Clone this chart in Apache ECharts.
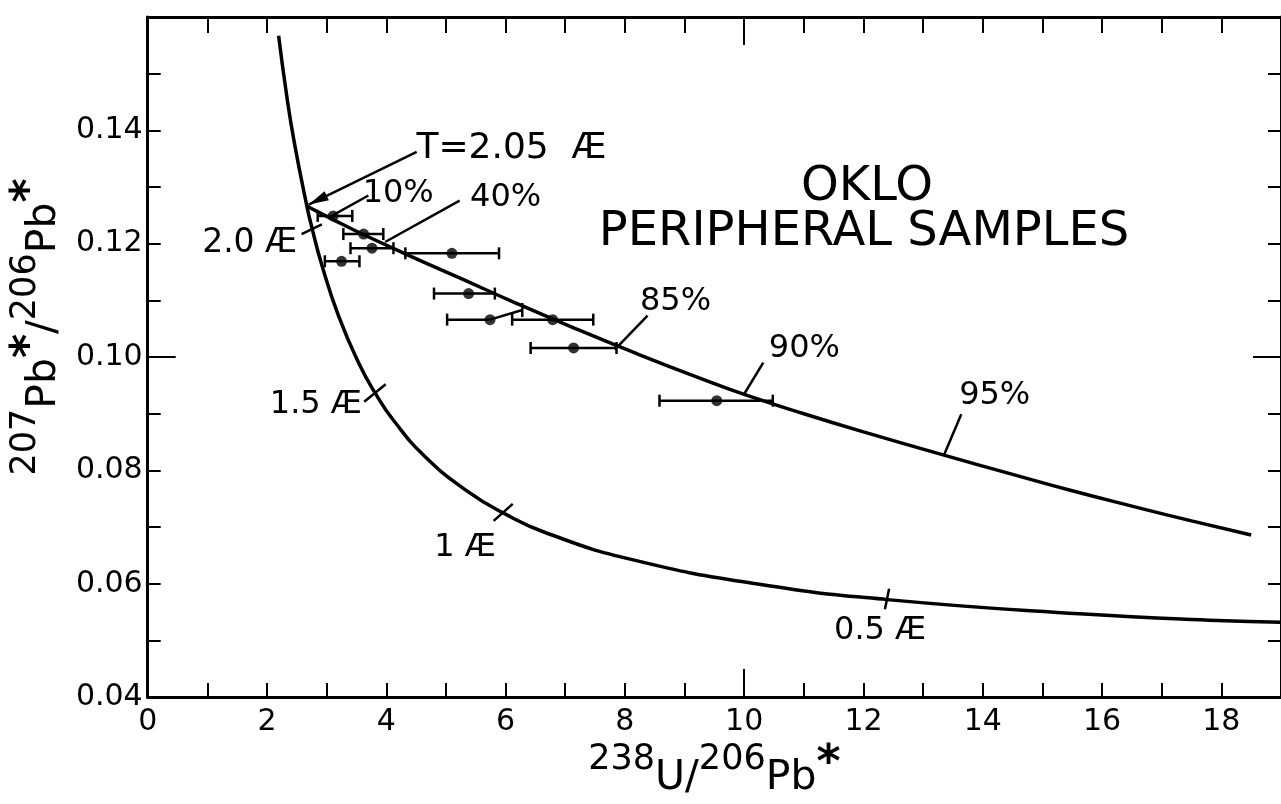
<!DOCTYPE html>
<html><head><meta charset="utf-8">
<script src="https://cdn.jsdelivr.net/npm/echarts/dist/echarts.min.js"></script>
<style>html,body{margin:0;padding:0;background:#fff}#c{width:1281px;height:804px}</style>
</head><body><div id="c"></div>
<script>
// ---- data ----
// Concordia curve (lower)
const concordiaX = [2.195, 2.332, 2.459, 2.671, 2.749, 2.918, 3.206, 3.550, 3.817, 4.123, 4.673, 5.375, 5.959, 6.674, 8.105, 10.252, 12.40, 15.62, 17.93, 19.04];
const concordiaY = [0.1567, 0.1460, 0.1378, 0.1265, 0.1230, 0.1163, 0.1071, 0.0987, 0.0936, 0.0888, 0.0822, 0.0762, 0.0725, 0.0690, 0.0643, 0.0599, 0.0572, 0.0547, 0.0535, 0.0532];
// Lead-loss curve (upper)
const lossX = [2.67, 3.10, 3.50, 4.30, 5.20, 6.20, 7.20, 8.20, 9.20, 10.00, 11.00, 12.00, 13.35, 14.50, 15.50, 16.50, 17.50, 18.50];
const lossY = [0.1266, 0.1243, 0.1222, 0.1183, 0.1141, 0.1094, 0.1049, 0.1006, 0.0965, 0.0934, 0.0900, 0.0868, 0.0827, 0.0793, 0.0764, 0.0737, 0.0711, 0.0686];
// Oklo peripheral samples with horizontal error bars
const sampleX  = [3.11, 3.62, 3.76, 3.25, 5.10, 5.38, 5.74, 6.79, 7.14, 9.54];
const sampleY  = [0.1249, 0.1217, 0.1192, 0.1169, 0.1183, 0.1112, 0.1066, 0.1066, 0.1016, 0.0923];
const sampleLo = [2.85, 3.28, 3.40, 2.97, 4.32, 4.80, 5.02, 6.11, 6.42, 8.58];
const sampleHi = [3.43, 3.95, 4.12, 3.55, 5.89, 5.82, 5.74, 7.47, 7.86, 10.48];
// Leader lines / tick marks (data coordinates)
const leaderX1 = [4.51, 3.70, 5.23, 8.38, 10.32, 13.64, 2.58, 3.63, 5.80, 12.36, 5.74];
const leaderY1 = [0.1362, 0.1285, 0.1276, 0.1073, 0.0990, 0.0899, 0.1217, 0.0921, 0.0711, 0.0555, 0.1066];
const leaderX2 = [2.70, 3.10, 3.98, 7.83, 9.99, 13.35, 2.92, 3.99, 6.12, 12.43, 6.28];
const leaderY2 = [0.1269, 0.1250, 0.1203, 0.1013, 0.0933, 0.0827, 0.1234, 0.0952, 0.0741, 0.0591, 0.1083];
const leaderEnd = ['arrow', 'none', 'none', 'none', 'none', 'none', 'none', 'none', 'none', 'none', 'cap'];
// Text annotations (anchored at their centres, data coordinates)
const labelText = ['T=2.05  Æ', '10%', '40%', '2.0 Æ', 'OKLO', 'PERIPHERAL SAMPLES', '85%', '90%', '95%', '1.5 Æ', '1 Æ', '0.5 Æ'];
const labelX = [6.10, 4.20, 6.00, 1.71, 12.06, 12.01, 8.85, 11.01, 14.20, 2.82, 5.32, 12.28];
const labelY = [0.1367, 0.1289, 0.1282, 0.1200, 0.1299, 0.1220, 0.1098, 0.1014, 0.0932, 0.0916, 0.0664, 0.0518];
// Axis tick labels
const xTickLabels = ['0', '2', '4', '6', '8', '10', '12', '14', '16', '18'];
const yTickLabels = ['0.04', '0.06', '0.08', '0.10', '0.12', '0.14'];

// ---- styling ----
const FONT = '"DejaVu Sans", "Liberation Sans", sans-serif';
const labelSize = [36, 32, 32, 33, 48, 48, 32, 32, 32, 32, 32, 32];
const INK = '#000';

const chart = echarts.init(document.getElementById('c'), null, {renderer: 'canvas'});

function xFmt(v) { const r = Math.round(v); const s = String(r); return xTickLabels.indexOf(s) >= 0 && Math.abs(v - r) < 1e-6 ? s : ''; }
function yFmt(v) { const s = (Math.round(v * 100) / 100).toFixed(2); return yTickLabels.indexOf(s) >= 0 ? s : ''; }

const nameRich = {
  sup:  {fontSize: 35, fontFamily: FONT, color: INK, verticalAlign: 'top'},
  base: {fontSize: 41, fontFamily: FONT, color: INK, verticalAlign: 'bottom', lineHeight: 57},
  st:   {fontSize: 46, fontFamily: FONT, color: INK, fontWeight: 'bold', verticalAlign: 'top'}
};

function xAx(pos, interval, len, labels) {
  return {
    type: 'value', min: 0, max: 19, interval: interval, position: pos,
    axisLine: {show: interval === 1, onZero: false, lineStyle: {color: INK, width: 3}},
    axisTick: {show: true, inside: true, length: len, lineStyle: {color: INK, width: 2}},
    axisLabel: labels ? {show: true, formatter: xFmt, fontSize: 30, fontFamily: FONT, color: INK, margin: 10, showMaxLabel: false} : {show: false},
    splitLine: {show: false}
  };
}
function yAx(pos, interval, len, labels) {
  return {
    type: 'value', min: 0.04, max: 0.16, interval: interval, position: pos,
    axisLine: {show: interval === 0.01, onZero: false, lineStyle: {color: INK, width: 3}},
    axisTick: {show: true, inside: true, length: len, lineStyle: {color: INK, width: 2}},
    axisLabel: labels ? {show: true, formatter: yFmt, fontSize: 30, fontFamily: FONT, color: INK, margin: 5} : {show: false},
    splitLine: {show: false}
  };
}

const xMain = xAx('bottom', 1, 14, true);
xMain.name = '{sup|238}{base|U/}{sup|206}{base|Pb}{st|*}';
xMain.nameLocation = 'middle';
xMain.nameGap = 38;
xMain.nameTextStyle = {rich: nameRich};

const yMain = yAx('left', 0.01, 13, true);
yMain.name = '{sup|207}{base|Pb}{st|*}{base|/}{sup|206}{base|Pb}{st|*}';
yMain.nameLocation = 'middle';
yMain.nameRotate = 90;
yMain.nameGap = 74;
yMain.nameTextStyle = {rich: nameRich, padding: [0, 0, 0, 60]};

const errData = sampleX.map((x, i) => [sampleLo[i], sampleHi[i], sampleY[i], x]);
const leaderData = leaderX1.map((x, i) => [x, leaderY1[i], leaderX2[i], leaderY2[i]]);
const labelData = labelX.map((x, i) => [x, labelY[i]]);

function renderErr(params, api) {
  const lo = api.coord([api.value(0), api.value(2)]);
  const hi = api.coord([api.value(1), api.value(2)]);
  const c = 6, st = {stroke: INK, lineWidth: 2.5};
  const kids = [
    {type: 'line', shape: {x1: lo[0], y1: lo[1], x2: hi[0], y2: hi[1]}, style: st},
    {type: 'line', shape: {x1: lo[0], y1: lo[1] - c, x2: lo[0], y2: lo[1] + c}, style: st}
  ];
  if (api.value(1) > api.value(3) + 1e-9) {
    kids.push({type: 'line', shape: {x1: hi[0], y1: hi[1] - c, x2: hi[0], y2: hi[1] + c}, style: st});
  }
  return {type: 'group', children: kids};
}
function renderLeader(params, api) {
  const p1 = api.coord([api.value(0), api.value(1)]);
  const p2 = api.coord([api.value(2), api.value(3)]);
  const st = {stroke: INK, lineWidth: 2.5};
  const kids = [{type: 'line', shape: {x1: p1[0], y1: p1[1], x2: p2[0], y2: p2[1]}, style: st}];
  const kind = leaderEnd[params.dataIndex];
  if (kind === 'arrow') {
    const dx = p2[0] - p1[0], dy = p2[1] - p1[1], L = Math.hypot(dx, dy);
    const ux = dx / L, uy = dy / L, px = -uy, py = ux, a = 20, w = 5;
    kids.push({type: 'polygon', shape: {points: [
      [p2[0], p2[1]],
      [p2[0] - ux * a + px * w, p2[1] - uy * a + py * w],
      [p2[0] - ux * a - px * w, p2[1] - uy * a - py * w]
    ]}, style: {fill: INK}});
  } else if (kind === 'cap') {
    kids.push({type: 'line', shape: {x1: p2[0], y1: p2[1] - 7, x2: p2[0], y2: p2[1] + 7}, style: st});
  }
  return {type: 'group', children: kids};
}
function renderLabel(params, api) {
  const p = api.coord([api.value(0), api.value(1)]);
  const i = params.dataIndex;
  return {type: 'text', x: p[0], y: p[1], style: {
    text: labelText[i], fontSize: labelSize[i], fontFamily: FONT, fill: INK,
    align: 'center', verticalAlign: 'middle', textAlign: 'center', textVerticalAlign: 'middle'
  }};
}

chart.setOption({
  animation: false,
  backgroundColor: '#fff',
  grid: {left: 142, top: 17, right: -5, bottom: 85, containLabel: false},
  xAxis: [xMain, xAx('top', 1, 16, false), xAx('bottom', 10, 28, false), xAx('top', 10, 28, false)],
  yAxis: [yMain, yAx('right', 0.01, 13, false), yAx('left', 0.06, 28, false), yAx('right', 0.06, 28, false)],
  series: [
    {type: 'line', name: 'concordia', data: concordiaX.map((x, i) => [x, concordiaY[i]]),
     showSymbol: false, smooth: true, clip: true, lineStyle: {color: INK, width: 3.5}},
    {type: 'line', name: 'loss', data: lossX.map((x, i) => [x, lossY[i]]),
     showSymbol: false, smooth: true, clip: true, lineStyle: {color: INK, width: 3.5}},
    {type: 'custom', name: 'err', renderItem: renderErr, data: errData, z: 3},
    {type: 'scatter', name: 'samples', data: sampleX.map((x, i) => [x, sampleY[i]]),
     symbol: 'circle', symbolSize: 11, itemStyle: {color: INK}, z: 4},
    {type: 'custom', name: 'leaders', renderItem: renderLeader, data: leaderData, z: 3},
    {type: 'custom', name: 'labels', renderItem: renderLabel, data: labelData, z: 5}
  ]
});
</script></body></html>
